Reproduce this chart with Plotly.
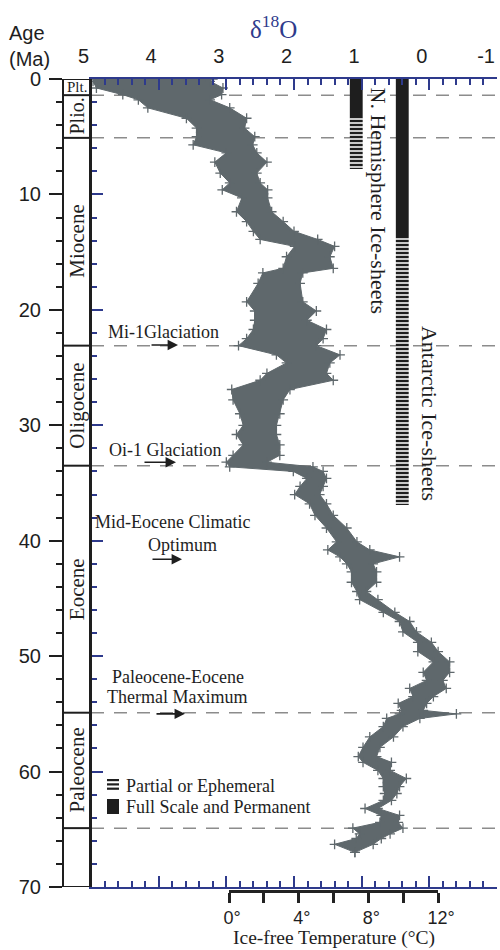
import plotly.graph_objects as go

# ---------------- data ----------------
age_ma = [0.0, 0.2, 0.78, 1.36, 1.8, 2.5, 3.4, 4.25, 5.0, 5.7, 6.4, 7.2, 8.15, 9.0, 9.6,
          10.3, 11.5, 12.35, 13.2, 13.9, 14.5, 15.4, 16.4, 16.8, 17.7, 19.3, 20.1, 20.9,
          21.7, 22.5, 23.1, 23.9, 24.6, 25.5, 26.1, 26.9, 27.8, 29.0, 30.0, 30.8, 31.7,
          32.6, 33.2, 33.6, 34.0, 34.6, 35.3, 36.0, 36.8, 37.8, 38.9, 40.1, 40.8, 41.4,
          42.0, 42.7, 43.6, 44.4, 45.1, 46.2, 47.0, 47.9, 48.8, 49.6, 50.5, 51.4, 52.1,
          52.8, 53.5, 54.1, 54.7, 55.0, 55.4, 56.1, 57.0, 57.9, 58.7, 59.2, 59.9, 60.6,
          61.3, 61.9, 62.5, 63.2, 63.8, 64.4, 64.9, 65.4, 65.8, 66.3, 67.0]
d18o_heavy = [4.95, 4.97, 4.92, 4.53, 4.30, 4.16, 3.59, 3.44, 3.44, 3.49, 3.00, 3.17, 3.09, 2.95, 3.06,
              2.77, 2.85, 2.70, 2.60, 2.50, 1.99, 2.11, 2.16, 2.46, 2.53, 2.70, 2.58, 2.58,
              2.60, 2.70, 2.82, 2.26, 2.11, 2.40, 2.50, 2.92, 2.90, 2.80, 2.75, 2.85, 2.75,
              2.90, 3.00, 2.95, 2.01, 1.81, 1.91, 1.99, 1.77, 1.69, 1.52, 1.37, 1.50, 1.32,
              1.22, 1.15, 1.15, 1.07, 1.03, 0.68, 0.44, 0.39, 0.17, 0.17, -0.06, 0.09, 0.04,
              0.29, 0.24, 0.46, 0.41, 0.44, 0.63, 0.68, 0.88, 0.98, 1.05, 0.98, 0.76, 0.68,
              0.68, 0.66, 0.68, 0.95, 0.71, 0.73, 1.13, 1.03, 1.08, 1.40, 1.10]
d18o_light = [3.20, 3.24, 3.05, 3.07, 3.24, 2.95, 2.70, 2.73, 2.58, 2.61, 2.55, 2.40, 2.55, 2.50, 2.39,
              2.39, 2.33, 2.16, 2.00, 1.65, 1.40, 1.47, 1.42, 1.87, 1.91, 1.87, 1.67, 1.81,
              1.52, 1.57, 1.67, 1.32, 1.47, 1.52, 1.42, 2.06, 2.16, 2.21, 2.26, 2.26, 2.21,
              2.21, 2.40, 1.72, 1.57, 1.52, 1.57, 1.62, 1.52, 1.42, 1.22, 1.07, 0.88, 0.44,
              0.83, 0.78, 0.78, 0.93, 0.76, 0.51, 0.29, 0.19, -0.03, -0.13, -0.30, -0.30, -0.20,
              -0.25, -0.06, 0.04, 0.09, -0.40, 0.14, 0.39, 0.53, 0.73, 0.78, 0.56, 0.58, 0.34,
              0.44, 0.48, 0.56, 0.76, 0.44, 0.46, 0.39, 0.58, 0.71, 0.83, 1.10]

d18o_ticks = [5, 4, 3, 2, 1, 0, -1]
d18o_tick_labels = ["5", "4", "3", "2", "1", "0", "-1"]
age_ticks = [0, 10, 20, 30, 40, 50, 60, 70]
temp_ticks = [0, 2, 4, 6, 8, 10, 12]
temp_tick_labels = ["0°", "", "4°", "", "8°", "", "12°"]
temp_ref_d18o = [2.96, -0.13]          # δ18O that corresponds to 0 °C and 12 °C

epochs = ["Plt.", "Plio.", "Miocene", "Oligocene", "Eocene", "Paleocene"]
epoch_bounds = [0, 1.4, 5.1, 23.1, 33.5, 54.9, 64.9]

ice_sheets = ["N. Hemisphere Ice-sheets", "Antarctic Ice-sheets"]
ice_d18o = [1.08, 0.40]
ice_full_start = [0.0, 0.0]
ice_full_end = [3.4, 13.6]
ice_partial_end = [7.8, 36.9]

events = ["Mi-1Glaciation", "Oi-1 Glaciation", "Mid-Eocene Climatic Optimum",
          "Paleocene-Eocene Thermal Maximum"]
event_ages = [23.05, 33.2, 41.6, 55.0]

legend_items = ["Partial or Ephemeral", "Full Scale and Permanent"]

# ---------------- layout geometry ----------------
W, H = 500, 950
L, R, T, B = 63, 3, 79, 59
PW, PH = W - L - R, H - T - B


def px(x):
    return (x - L) / PW


def py(y):
    return (H - B - y) / PH


x_dom = [px(91), 1.0]
y_dom = [py(887), 1.0]
X_RANGE = [5, -1]
Y_RANGE = [70, 0]


def xfrac(d):
    return x_dom[0] + (X_RANGE[0] - d) / (X_RANGE[0] - X_RANGE[1]) * (x_dom[1] - x_dom[0])


GRAY = "#5f686c"
BLUE = "#2e3a8c"
INK = "#1e1e1e"
SERIF = "Liberation Serif"
SANS = "Liberation Sans"

fig = go.Figure()

# band of the δ18O record
fig.add_trace(go.Scatter(
    x=d18o_heavy + d18o_light[::-1], y=age_ma + age_ma[::-1],
    fill="toself", fillcolor=GRAY, mode="lines",
    line=dict(color=GRAY, width=1), hoverinfo="skip", showlegend=False))
fig.add_trace(go.Scatter(
    x=d18o_heavy + d18o_light, y=age_ma + age_ma, mode="markers",
    marker=dict(symbol="cross-thin", size=7, line=dict(color=GRAY, width=1.3)),
    hoverinfo="skip", showlegend=False))

# ice-sheet bars
fig.add_trace(go.Bar(
    x=ice_d18o, base=ice_full_start,
    y=[e - s for s, e in zip(ice_full_start, ice_full_end)],
    width=0.19, marker=dict(color=INK, line=dict(width=0)),
    yaxis="y2", showlegend=False, hoverinfo="skip"))
fig.add_trace(go.Bar(
    x=ice_d18o, base=ice_full_end,
    y=[e - s for s, e in zip(ice_full_end, ice_partial_end)],
    width=0.19,
    marker=dict(color=INK, line=dict(width=0),
                pattern=dict(shape="-", fgcolor=INK, bgcolor="white",
                             size=4, solidity=0.62, fillmode="replace")),
    yaxis="y2", showlegend=False, hoverinfo="skip"))

# carrier for the temperature axis
fig.add_trace(go.Scatter(x=temp_ticks, y=[None] * len(temp_ticks), xaxis="x3", yaxis="y",
                         mode="markers", showlegend=False, hoverinfo="skip"))

shapes = []
# dashed boundary lines
for a in epoch_bounds[1:]:
    shapes.append(dict(type="line", xref="x", yref="y", x0=X_RANGE[0], x1=X_RANGE[1],
                       y0=a, y1=a, layer="below",
                       line=dict(color="#8c8c8c", width=1.5, dash="13px,10px")))
# epoch column
shapes.append(dict(type="rect", xref="paper", yref="y", x0=0, x1=x_dom[0], y0=0, y1=70,
                   line=dict(color=INK, width=2)))
for a in epoch_bounds[1:]:
    shapes.append(dict(type="line", xref="paper", yref="y", x0=0, x1=x_dom[0], y0=a, y1=a,
                       line=dict(color=INK, width=2)))
# legend icons
for y0, y1 in [(779, 781.2), (783.3, 785.5), (787.6, 789.8)]:
    shapes.append(dict(type="rect", xref="paper", yref="paper", x0=px(107), x1=px(119),
                       y0=py(y1), y1=py(y0), fillcolor=INK, line=dict(width=0)))
shapes.append(dict(type="rect", xref="paper", yref="paper", x0=px(107), x1=px(119),
                   y0=py(814), y1=py(799), fillcolor=INK, line=dict(width=0)))

ann = []
# epoch labels
epoch_sizes = {"Plt.": 15, "Plio.": 20}
for i, name in enumerate(epochs):
    mid = (epoch_bounds[i] + epoch_bounds[i + 1]) / 2
    ann.append(dict(text=name, xref="paper", yref="y", x=px(77), y=mid, showarrow=False,
                    xanchor="center", yanchor="middle",
                    textangle=0 if name == "Plt." else -90,
                    font=dict(family=SERIF, size=epoch_sizes.get(name, 21), color=INK)))
# event labels
ev_text = [(events[0], 3.936, 21.9), (events[1], 3.907, 32.1),
           ("Mid-Eocene Climatic", 3.79, 38.4), ("Optimum", 3.655, 40.4),
           ("Paleocene-Eocene", 3.714, 51.8), ("Thermal Maximum", 3.73, 53.5)]
for t, xx, yy in ev_text:
    ann.append(dict(text=t, x=xx, y=yy, xref="x", yref="y", showarrow=False,
                    xanchor="center", yanchor="middle",
                    font=dict(family=SERIF, size=18, color=INK)))
for a, tip, ax in zip(event_ages, [3.714, 3.744, 3.655, 3.611], [-28, -33, -31, -30]):
    ann.append(dict(text="", x=tip, y=a, xref="x", yref="y", ax=ax, ay=0, showarrow=True,
                    arrowhead=2, arrowsize=1.3, arrowwidth=1.6, arrowcolor=INK))
# ice-sheet labels
ann.append(dict(text=ice_sheets[0], x=0.746, y=10.6, xref="x", yref="y", showarrow=False,
                xanchor="center", yanchor="middle",
                textangle=90, font=dict(family=SERIF, size=22, color=INK)))
ann.append(dict(text=ice_sheets[1], x=0.007, y=29.0, xref="x", yref="y", showarrow=False,
                xanchor="center", yanchor="middle",
                textangle=90, font=dict(family=SERIF, size=22, color=INK)))
# legend text
ann.append(dict(text=legend_items[0], xref="paper", yref="paper", x=px(124), y=py(786),
                xanchor="left", yanchor="middle", showarrow=False,
                font=dict(family=SERIF, size=18, color=INK)))
ann.append(dict(text=legend_items[1], xref="paper", yref="paper", x=px(124), y=py(807),
                xanchor="left", yanchor="middle", showarrow=False,
                font=dict(family=SERIF, size=18, color=INK)))
# titles
ann.append(dict(text="δ<sup>18</sup>O", xref="paper", yref="paper", x=px(273.5), y=py(27),
                xanchor="center", yanchor="middle",
                showarrow=False, font=dict(family=SERIF, size=25, color=BLUE)))
ann.append(dict(text="Age<br>(Ma)", xref="paper", yref="paper", x=px(7), y=py(46),
                xanchor="left", yanchor="middle", align="left", showarrow=False,
                font=dict(family=SANS, size=20, color=INK)))
ann.append(dict(text="Ice-free Temperature (°C)", xref="paper", yref="paper",
                x=(xfrac(temp_ref_d18o[0]) + xfrac(temp_ref_d18o[1])) / 2, y=py(938),
                xanchor="center", yanchor="middle", showarrow=False,
                font=dict(family=SERIF, size=19.5, color=INK)))

fig.update_layout(
    width=W, height=H, margin=dict(l=L, r=R, t=T, b=B, autoexpand=False),
    paper_bgcolor="white", plot_bgcolor="rgba(0,0,0,0)", showlegend=False,
    barmode="overlay",
    shapes=shapes, annotations=ann,
    xaxis=dict(domain=x_dom, range=X_RANGE, side="top", anchor="y", automargin=False,
               tickvals=d18o_ticks, ticktext=d18o_tick_labels,
               ticks="inside", ticklen=11, tickwidth=2, tickcolor=BLUE,
               ticklabelposition="outside left", ticklabelstandoff=6,
               showline=True, linecolor=BLUE, linewidth=2, mirror="ticks",
               minor=dict(dtick=0.2, tick0=0, ticks="inside", ticklen=6, tickwidth=2,
                          tickcolor=BLUE, showgrid=False),
               showgrid=False, zeroline=False,
               tickfont=dict(family=SANS, size=20, color=INK)),
    yaxis=dict(domain=y_dom, range=Y_RANGE, anchor="free", position=0, automargin=False,
               tickvals=age_ticks, ticks="outside", ticklen=13, tickwidth=2, tickcolor=INK,
               ticklabelstandoff=4,
               minor=dict(dtick=2, tick0=0, ticks="outside", ticklen=6, tickwidth=2,
                          tickcolor=INK, showgrid=False),
               showline=True, linecolor=INK, linewidth=2,
               showgrid=False, zeroline=False,
               tickfont=dict(family=SANS, size=20, color=INK)),
    yaxis2=dict(domain=y_dom, range=Y_RANGE, overlaying="y", anchor="x", side="left",
                automargin=False,
                tickvals=age_ticks, ticks="inside", ticklen=12, tickwidth=2, tickcolor=BLUE,
                minor=dict(dtick=2, tick0=0, ticks="inside", ticklen=6, tickwidth=2,
                           tickcolor=BLUE, showgrid=False),
                showticklabels=False, showline=True, linecolor=INK, linewidth=2,
                showgrid=False, zeroline=False),
    xaxis3=dict(domain=[xfrac(temp_ref_d18o[0]), xfrac(temp_ref_d18o[1])],
                range=[temp_ticks[0], temp_ticks[-1]], anchor="free", position=0, side="bottom",
                automargin=False,
                tickvals=temp_ticks, ticktext=temp_tick_labels,
                ticks="outside", ticklen=10, tickwidth=2.5, tickcolor="#222",
                ticklabelstandoff=0, ticklabelshift=3,
                showline=True, linecolor="#222", linewidth=2.5,
                showgrid=False, zeroline=False,
                tickfont=dict(family=SANS, size=18, color=INK)),
)

fig.write_html("out.html")
